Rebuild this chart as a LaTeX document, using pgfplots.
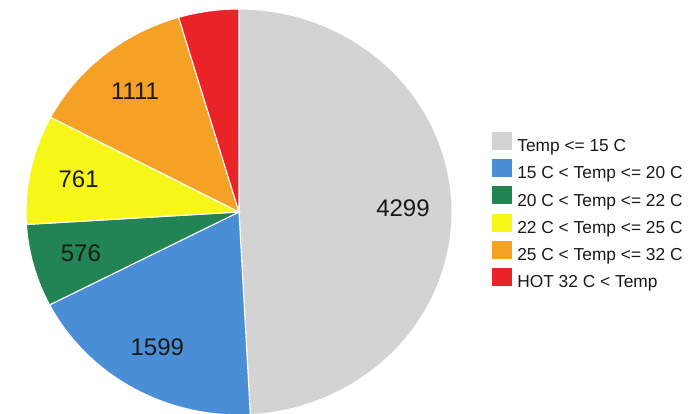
\documentclass[border=0pt]{standalone}
\usepackage{fontspec}
\setmainfont{Liberation Sans}
\usepackage{pgfplots}
\usepackage{pgfplotstable}
\pgfplotsset{compat=1.18}

\definecolor{sGray}{RGB}{211,211,211}
\definecolor{sBlue}{RGB}{74,143,214}
\definecolor{sGreen}{RGB}{34,132,82}
\definecolor{sYellow}{RGB}{246,246,24}
\definecolor{sOrange}{RGB}{245,161,38}
\definecolor{sRed}{RGB}{234,35,40}
\definecolor{labelText}{RGB}{25,25,25}

% hours in each temperature band
\pgfplotstableread{
value
4299
1599
576
761
1111
400
}\slices

% running sums -> slice boundary angles (degrees, clockwise from 12 o'clock)
\def\runsum{0}
\pgfplotsforeachungrouped \i in {0,...,5}{%
  \pgfplotstablegetelem{\i}{value}\of\slices
  \expandafter\xdef\csname val\i\endcsname{\pgfplotsretval}%
  \pgfmathsetmacro\tmp{\runsum+\pgfplotsretval}%
  \xdef\runsum{\tmp}%
  \expandafter\xdef\csname cum\i\endcsname{\tmp}%
}
\pgfmathsetmacro\angA{0}
\pgfmathsetmacro\angB{360*(\csname cum0\endcsname/\runsum)}
\pgfmathsetmacro\angC{360*(\csname cum1\endcsname/\runsum)}
\pgfmathsetmacro\angD{360*(\csname cum2\endcsname/\runsum)}
\pgfmathsetmacro\angE{360*(\csname cum3\endcsname/\runsum)}
\pgfmathsetmacro\angF{360*(\csname cum4\endcsname/\runsum)}
\pgfmathsetmacro\angG{360}

% pie geometry (axis units)
\def\cx{239}\def\cy{-212}\def\rx{213}\def\ry{203}

\newcommand\pieslice[3]{%
  \addplot[fill=#1, draw=white, line width=0.8pt, domain=#2:#3, samples=100, variable=\t]
    ({\cx+\rx*sin(\t)},{\cy+\ry*cos(\t)}) -- (axis cs:\cx,\cy) -- cycle;
}
\newcommand\slicelabel[3]{%
  \node[text=labelText, font=\fontsize{18}{18}\selectfont, inner sep=0pt]
    at (axis cs:{\cx+0.77*\rx*sin((#1+#2)/2)},{\cy+0.77*\ry*cos((#1+#2)/2)}) {#3};
}

\begin{document}
\begin{tikzpicture}
\begin{axis}[
  width=522pt, height=310.5pt, scale only axis,
  xmin=0, xmax=696, ymin=-414, ymax=0,
  hide axis,
  legend image code/.code={\fill[#1, draw=none] (0pt,-2.2pt) rectangle (15pt,11.3pt);},
  legend cell align=left,
  legend style={
    at={(axis cs:492,-132)}, anchor=north west,
    draw=none, fill=none, inner sep=0pt, outer sep=0pt,
    font=\fontsize{13}{14}\selectfont, text=labelText,
    row sep=2.6pt,
    nodes={inner sep=0pt, text height=10pt, text depth=3pt},
    /tikz/every odd column/.append style={column sep=4pt},
  },
]
\pieslice{sGray}{\angA}{\angB}
\addlegendentry{Temp <= 15 C}
\pieslice{sBlue}{\angB}{\angC}
\addlegendentry{15 C < Temp <= 20 C}
\pieslice{sGreen}{\angC}{\angD}
\addlegendentry{20 C < Temp <= 22 C}
\pieslice{sYellow}{\angD}{\angE}
\addlegendentry{22 C < Temp <= 25 C}
\pieslice{sOrange}{\angE}{\angF}
\addlegendentry{25 C < Temp <= 32 C}
\pieslice{sRed}{\angF}{\angG}
\addlegendentry{HOT 32 C < Temp}

\slicelabel{\angA}{\angB}{\csname val0\endcsname}
\slicelabel{\angB}{\angC}{\csname val1\endcsname}
\slicelabel{\angC}{\angD}{\csname val2\endcsname}
\slicelabel{\angD}{\angE}{\csname val3\endcsname}
\slicelabel{\angE}{\angF}{\csname val4\endcsname}

\path (rel axis cs:0,0) rectangle (rel axis cs:1,1);
\end{axis}
\end{tikzpicture}
\end{document}
